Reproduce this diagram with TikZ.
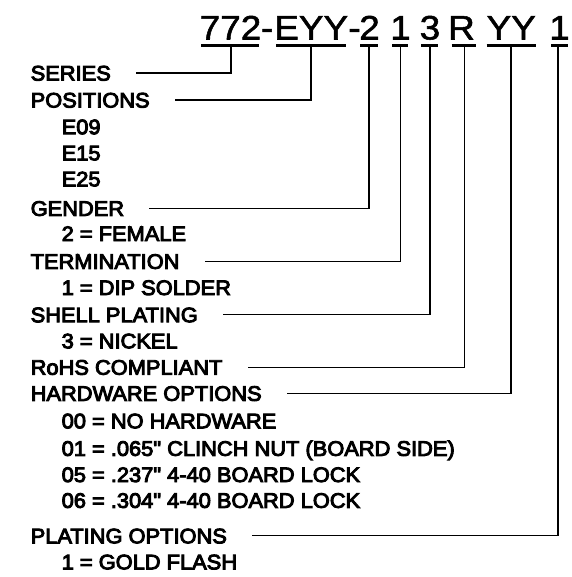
\documentclass[tikz,border=0pt]{standalone}
\usepackage{fontspec}
\setmainfont{Liberation Sans}
\newfontfamily\titfont[FakeStretch=1.085,FakeBold=1.5]{Liberation Sans}
\newfontfamily\labfont[FakeBold=4.5,FakeStretch=1.04]{Liberation Sans}
\begin{document}
\begin{tikzpicture}[x=1pt,y=-1pt,
  tit/.style={inner sep=0pt,anchor=base,font=\titfont\fontsize{34}{40}\selectfont},
  lab/.style={inner sep=0pt,anchor=west,text height=15.04pt,text depth=0pt,font=\labfont\fontsize{21}{25}\selectfont},
  uline/.style={line width=3.3pt},
  conn/.style={line width=1.3pt,line join=miter}]
\useasboundingbox (0,0) rectangle (571,577);
% title groups
\node[tit] (t1) at (230.5,39.5) {772};
\node[tit] (h1) at (267.2,39.5) {-};
\node[tit] (t2) at (311.2,39.5) {EYY};
\node[tit] (h2) at (354.5,39.5) {-};
\node[tit] (t3) at (369.5,39.5) {2};
\node[tit] (t4) at (400.5,39.5) {1};
\node[tit] (t5) at (430,39.5) {3};
\node[tit] (t6) at (461.5,39.5) {R};
\node[tit] (t7) at (511.2,39.5) {YY};
\node[tit] (t8) at (559.5,39.5) {1};
% underlines
\draw[uline] (201,45.5) -- (259.3,45.5);
\draw[uline] (276,45.5) -- (346,45.5);
\draw[uline] (360,45.5) -- (378,45.5);
\draw[uline] (392,45.5) -- (408.3,45.5);
\draw[uline] (421,45.5) -- (438.3,45.5);
\draw[uline] (451.5,45.5) -- (476,45.5);
\draw[uline] (486.5,45.5) -- (536,45.5);
\draw[uline] (551,45.5) -- (567.5,45.5);
% connector tops
\coordinate (u1) at (231,46);
\coordinate (u2) at (311,46);
\coordinate (u3) at (369,46);
\coordinate (u4) at (400.5,46);
\coordinate (u5) at (430,46);
\coordinate (u6) at (464.5,46);
\coordinate (u7) at (511,46);
\coordinate (u8) at (558,46);
% labels
\node[lab] (l1) at (30.5,73) {SERIES};
\node[lab] (l2) at (30.5,100) {POSITIONS};
\node[lab] (s21) at (61.5,126.7) {E09};
\node[lab] (s22) at (61.5,152.8) {E15};
\node[lab] (s23) at (61.5,178.8) {E25};
\node[lab] (l3) at (30.5,208.3) {GENDER};
\node[lab] (s31) at (61.5,233.5) {2 = FEMALE};
\node[lab] (l4) at (30.5,261.3) {TERMINATION};
\node[lab] (s41) at (61.5,287.5) {1 = DIP SOLDER};
\node[lab] (l5) at (30.5,314.7) {SHELL PLATING};
\node[lab] (s51) at (61.5,340.8) {3 = NICKEL};
\node[lab] (l6) at (30.5,367.2) {RoHS COMPLIANT};
\node[lab] (l7) at (30.5,393.3) {HARDWARE OPTIONS};
\node[lab] (s71) at (61.5,420.8) {00 = NO HARDWARE};
\node[lab] (s72) at (61.5,448.3) {01 = .065" CLINCH NUT (BOARD SIDE)};
\node[lab] (s73) at (61.5,474.5) {05 = .237" 4-40 BOARD LOCK};
\node[lab] (s74) at (61.5,500.3) {06 = .304" 4-40 BOARD LOCK};
\node[lab] (l8) at (30.5,535.8) {PLATING OPTIONS};
\node[lab] (s81) at (61.5,561.8) {1 = GOLD FLASH};
% connectors
\draw[conn] (u1) |- ([xshift=25pt]l1.east);
\draw[conn] (u2) |- ([xshift=25pt]l2.east);
\draw[conn] (u3) |- ([xshift=25pt]l3.east);
\draw[conn] (u4) |- ([xshift=25pt]l4.east);
\draw[conn] (u5) |- ([xshift=25pt]l5.east);
\draw[conn] (u6) |- ([xshift=25pt]l6.east);
\draw[conn] (u7) |- ([xshift=25pt]l7.east);
\draw[conn] (u8) |- ([xshift=25pt]l8.east);
\end{tikzpicture}
\end{document}
